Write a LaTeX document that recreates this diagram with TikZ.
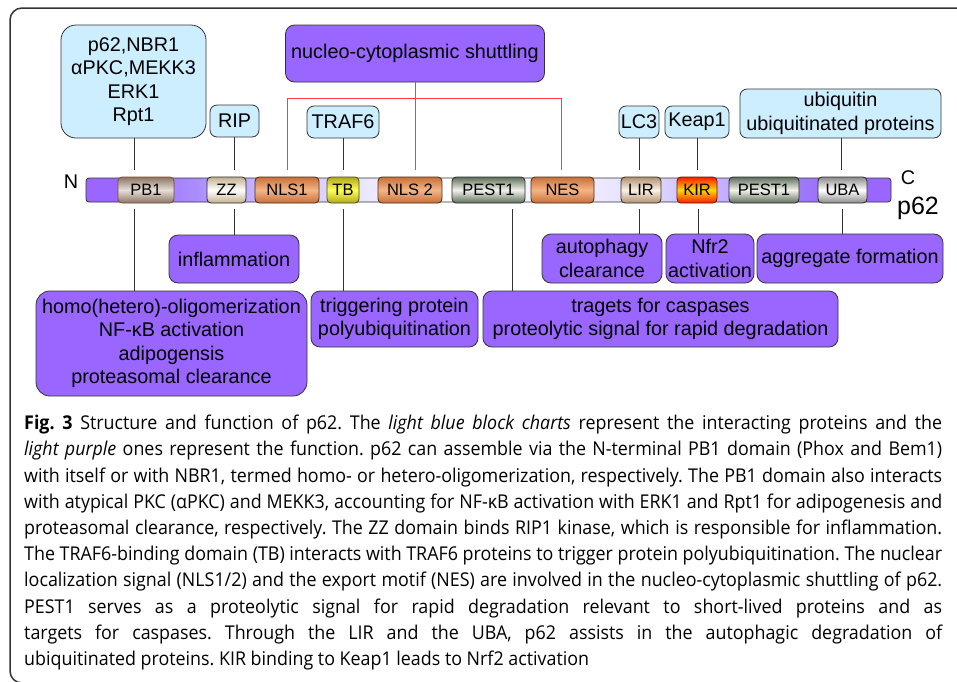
\documentclass[tikz,border=0pt]{standalone}
\usepackage{graphicx}
\usepackage{fontspec}
\setmainfont{Liberation Sans}
\newfontfamily\capfont{Open Sans}
\usetikzlibrary{calc}

\definecolor{lblue}{HTML}{CCEEFF}
\definecolor{lpurple}{HTML}{9966FF}
\definecolor{edge}{HTML}{333333}
\definecolor{redl}{HTML}{FF3B3B}
% bar colours
\definecolor{bA}{HTML}{9966FF}
\definecolor{bB}{HTML}{A98AFF}
\definecolor{bC}{HTML}{C2AEFF}
\definecolor{bD}{HTML}{ECE8FF}
\definecolor{bE}{HTML}{FFFFFF}
\definecolor{bF}{HTML}{F6F4FF}
\definecolor{bG}{HTML}{E9E5FF}
\definecolor{bH}{HTML}{D9CFFF}
\definecolor{bI}{HTML}{C1ABFF}
\definecolor{bJ}{HTML}{A07EF8}
% domain colours
\definecolor{pbE}{HTML}{8C7566}\definecolor{pbM}{HTML}{E6DED6}\definecolor{pbB}{HTML}{7A4E2A}
\definecolor{zzE}{HTML}{C4B08C}\definecolor{zzM}{HTML}{FFFFFF}\definecolor{zzB}{HTML}{2A2A2A}
\definecolor{nlsE}{HTML}{C8703A}\definecolor{nlsM}{HTML}{F4B585}\definecolor{nlsB}{HTML}{4A2A12}
\definecolor{tbE}{HTML}{B0A820}\definecolor{tbM}{HTML}{FFFF55}\definecolor{tbB}{HTML}{4A4A10}
\definecolor{peE}{HTML}{5E6E5A}\definecolor{peM}{HTML}{F2F2EA}\definecolor{peB}{HTML}{2A2A2A}
\definecolor{lirE}{HTML}{B09070}\definecolor{lirM}{HTML}{FAF2E4}\definecolor{lirB}{HTML}{3A2A1A}
\definecolor{kirE}{HTML}{FF1A00}\definecolor{kirM}{HTML}{FFD800}\definecolor{kirB}{HTML}{5A1A00}
\definecolor{ubaE}{HTML}{8A8A8A}\definecolor{ubaM}{HTML}{FFFFFF}\definecolor{ubaB}{HTML}{2A2A2A}

\pgfdeclarehorizontalshading{barshade}{100bp}{color(0bp)=(bA); color(25bp)=(bA); color(27bp)=(bA); color(31.5bp)=(bB); color(35bp)=(bC); color(42.5bp)=(bD); color(47.5bp)=(bE); color(52.5bp)=(bF); color(58bp)=(bG); color(61bp)=(bH); color(65bp)=(bI); color(68.5bp)=(bJ); color(72.5bp)=(bA); color(75bp)=(bA); color(100bp)=(bA)}

\newcommand\lblfont{\fontsize{19.8}{23.5}\selectfont}
\newcommand\domfont{\fontsize{16.5}{18}\selectfont}
\newcommand\capsetup{\capfont\fontsize{19}{26.2}\selectfont\frenchspacing}

\newcommand\capLineA{\textbf{Fig.\ 3} Structure and function of p62. The \textit{light blue block charts} represent the interacting proteins and the}
\newcommand\capLineB{\textit{light purple} ones represent the function. p62 can assemble via the N-terminal PB1 domain (Phox and Bem1)}
\newcommand\capLineC{with itself or with NBR1, termed homo- or hetero-oligomerization, respectively. The PB1 domain also interacts}
\newcommand\capLineD{with atypical PKC (αPKC) and MEKK3, accounting for NF-κB activation with ERK1 and Rpt1 for adipogenesis and}
\newcommand\capLineE{proteasomal clearance, respectively. The ZZ domain binds RIP1 kinase, which is responsible for inflammation.}
\newcommand\capLineF{The TRAF6-binding domain (TB) interacts with TRAF6 proteins to trigger protein polyubiquitination. The nuclear}
\newcommand\capLineG{localization signal (NLS1/2) and the export motif (NES) are involved in the nucleo-cytoplasmic shuttling of p62.}
\newcommand\capLineH{PEST1 serves as a proteolytic signal for rapid degradation relevant to short-lived proteins and as}
\newcommand\capLineI{targets for caspases. Through the LIR and the UBA, p62 assists in the autophagic degradation of}
\newcommand\capLineJ{ubiquitinated proteins. KIR binding to Keap1 leads to Nrf2 activation}

\newdimen\capnat
\newdimen\capmax
\newcommand\measureline[1]{\setbox0=\hbox{\capsetup #1}\capnat=\wd0\relax\ifdim\capnat>\capmax\relax\global\capmax=\capnat\relax\fi}

\tikzset{
  bluebox/.style={draw=edge, fill=lblue, rounded corners=7pt, line width=0.8pt, inner sep=0pt, align=center, font=\lblfont},
  purpbox/.style={draw=edge, fill=lpurple, rounded corners=9pt, line width=0.8pt, inner sep=0pt, align=center, font=\lblfont},
  conn/.style={draw=edge, line width=0.8pt},
  redconn/.style={draw=redl, line width=0.9pt},
  dom/.style n args={3}{draw=#3, line width=0.8pt, rounded corners=4pt, top color=#1, bottom color=#1, middle color=#2, minimum height=26pt, inner sep=0pt, font=\domfont},
  lbl/.style={font=\lblfont, inner sep=0pt}
}

\begin{document}
\global\capmax=0pt
\measureline{\capLineA}\measureline{\capLineB}\measureline{\capLineC}\measureline{\capLineD}%
\measureline{\capLineE}\measureline{\capLineF}\measureline{\capLineG}%
\pgfmathsetmacro\capscale{918/\the\capmax}%
\pgfmathsetlengthmacro\capw{918/\capscale}%
\begin{tikzpicture}[x=1pt,y=-1pt]
\useasboundingbox (0,0) rectangle (957,681);

% frame
\draw[edge, line width=1.5pt, rounded corners=12pt] (965,8) -- (10,8) -- (10,683) -- (965,683);

% top boxes
\node[bluebox, minimum width=145pt, minimum height=113pt, rounded corners=15pt] (pbint) at (133.5,81.5) {p62,NBR1\\αPKC,MEKK3\\ERK1\\Rpt1};
\node[bluebox, minimum width=49pt, minimum height=32pt] (rip) at (234.5,121) {RIP};
\node[purpbox, minimum width=259pt, minimum height=57pt] (nuc) at (415,53.5) {nucleo-cytoplasmic shuttling};
\node[bluebox, minimum width=72pt, minimum height=32pt] (traf) at (343,122) {TRAF6};
\node[bluebox, minimum width=40pt, minimum height=32pt] (lc3) at (639,122) {LC3};
\node[bluebox, minimum width=64pt, minimum height=32pt] (keap) at (697,122) {Keap1};
\node[bluebox, minimum width=201pt, minimum height=49pt] (ubi) at (840.5,113.5) {ubiquitin\\ubiquitinated proteins};

% bar and domains
\node[draw=edge, line width=0.8pt, rounded corners=3pt, shading=barshade, minimum width=805pt, minimum height=24pt, inner sep=0pt] (bar) at (488.5,190) {};
\node[dom={pbE}{pbM}{pbB}, minimum width=56pt] (PB1) at (146,190) {PB1};
\node[dom={zzE}{zzM}{zzB}, minimum width=39pt] (ZZ) at (226.5,190) {ZZ};
\node[dom={nlsE}{nlsM}{nlsB}, minimum width=64pt] (NLS1) at (287,190) {NLS1};
\node[dom={tbE}{tbM}{tbB}, minimum width=32pt] (TB) at (343,190) {TB};
\node[dom={nlsE}{nlsM}{nlsB}, minimum width=64pt] (NLS2) at (410,190) {NLS 2};
\node[dom={peE}{peM}{peB}, minimum width=73pt] (PESTa) at (488.5,190) {PEST1};
\node[dom={nlsE}{nlsM}{nlsB}, minimum width=63pt] (NES) at (562.5,190) {NES};
\node[dom={lirE}{lirM}{lirB}, minimum width=40pt] (LIR) at (641,190) {LIR};
\node[dom={kirE}{kirM}{kirB}, minimum width=40pt] (KIR) at (697,190) {KIR};
\node[dom={peE}{peM}{peB}, minimum width=70pt] (PESTb) at (764,190) {PEST1};
\node[dom={ubaE}{ubaM}{ubaB}, minimum width=49pt] (UBA) at (842.5,190) {UBA};

\node[lbl] (nlab) at (71,182) {N};
\node[lbl] (clab) at (908,178) {C};
\node[font=\fontsize{25}{28}\selectfont, inner sep=0pt] (plab) at (918,208) {p62};

% bottom boxes
\node[purpbox, minimum width=130pt, minimum height=48pt] (infl) at (234,259) {inflammation};
\node[purpbox, minimum width=271pt, minimum height=105pt, rounded corners=14pt] (homo) at (171.5,343.5) {homo(hetero)-oligomerization\\NF-κB activation\\adipogensis\\proteasomal clearance};
\node[purpbox, minimum width=167pt, minimum height=56pt] (trig) at (394.5,319) {triggering protein\\polyubiquitination};
\node[purpbox, minimum width=120pt, minimum height=49pt] (auto) at (602,258.5) {autophagy\\clearance};
\node[purpbox, minimum width=88pt, minimum height=49pt] (nfr) at (710,258.5) {Nfr2\\activation};
\node[purpbox, minimum width=186pt, minimum height=49pt] (aggr) at (850,258.5) {aggregate formation};
\node[purpbox, minimum width=355pt, minimum height=56pt] (trag) at (660.5,319) {tragets for caspases\\proteolytic signal for rapid degradation};

% connector end points
\coordinate (tPB) at (134,170);  \coordinate (bPB) at (134,209);
\coordinate (tZZ) at (234,170);  \coordinate (bZZ) at (234,209);
\coordinate (tTB) at (343,170);  \coordinate (bTB) at (343,209);
\coordinate (tN1) at (287,170);  \coordinate (tN2) at (415,170);  \coordinate (tNE) at (561,170);
\coordinate (bPE) at (512,209);
\coordinate (tLI) at (639,170);  \coordinate (bLI) at (639,209);
\coordinate (tKI) at (697,170);  \coordinate (bKI) at (698,209);
\coordinate (tUB) at (841,170);  \coordinate (bUB) at (842,209);
\coordinate (brk) at (0,98);

% connectors above
\draw[conn] (pbint.south -| tPB) -- (tPB);
\draw[conn] (rip.south -| tZZ) -- (tZZ);
\draw[conn] (traf.south -| tTB) -- (tTB);
\draw[conn] (lc3.south -| tLI) -- (tLI);
\draw[conn] (keap.south -| tKI) -- (tKI);
\draw[conn] (ubi.south -| tUB) -- (tUB);
\draw[redconn] (nuc.south -| tN2) -- (tN2);
\draw[redconn] (tN1) -- (tN1 |- brk) -- (tNE |- brk) -- (tNE);

% connectors below
\draw[conn] (bPB) -- (bPB |- homo.north);
\draw[conn] (bZZ) -- (bZZ |- infl.north);
\draw[conn] (bTB) -- (bTB |- trig.north);
\draw[conn] (bPE) -- (bPE |- trag.north);
\draw[conn] (bLI) -- (bLI |- auto.north);
\draw[conn] (bKI) -- (bKI |- nfr.north);
\draw[conn] (bUB) -- (bUB |- aggr.north);

% caption
\node[anchor=north west, inner sep=0pt] (cap) at (24,415) {\scalebox{\capscale}[1]{\parbox{\capw}{\capsetup\tolerance=10000\hyphenpenalty=10000\exhyphenpenalty=10000\parindent=0pt
\capLineA\linebreak \capLineB\linebreak \capLineC\linebreak \capLineD\linebreak \capLineE\linebreak \capLineF\linebreak \capLineG\linebreak \capLineH\linebreak \capLineI\linebreak \capLineJ}}};
\end{tikzpicture}
\end{document}
